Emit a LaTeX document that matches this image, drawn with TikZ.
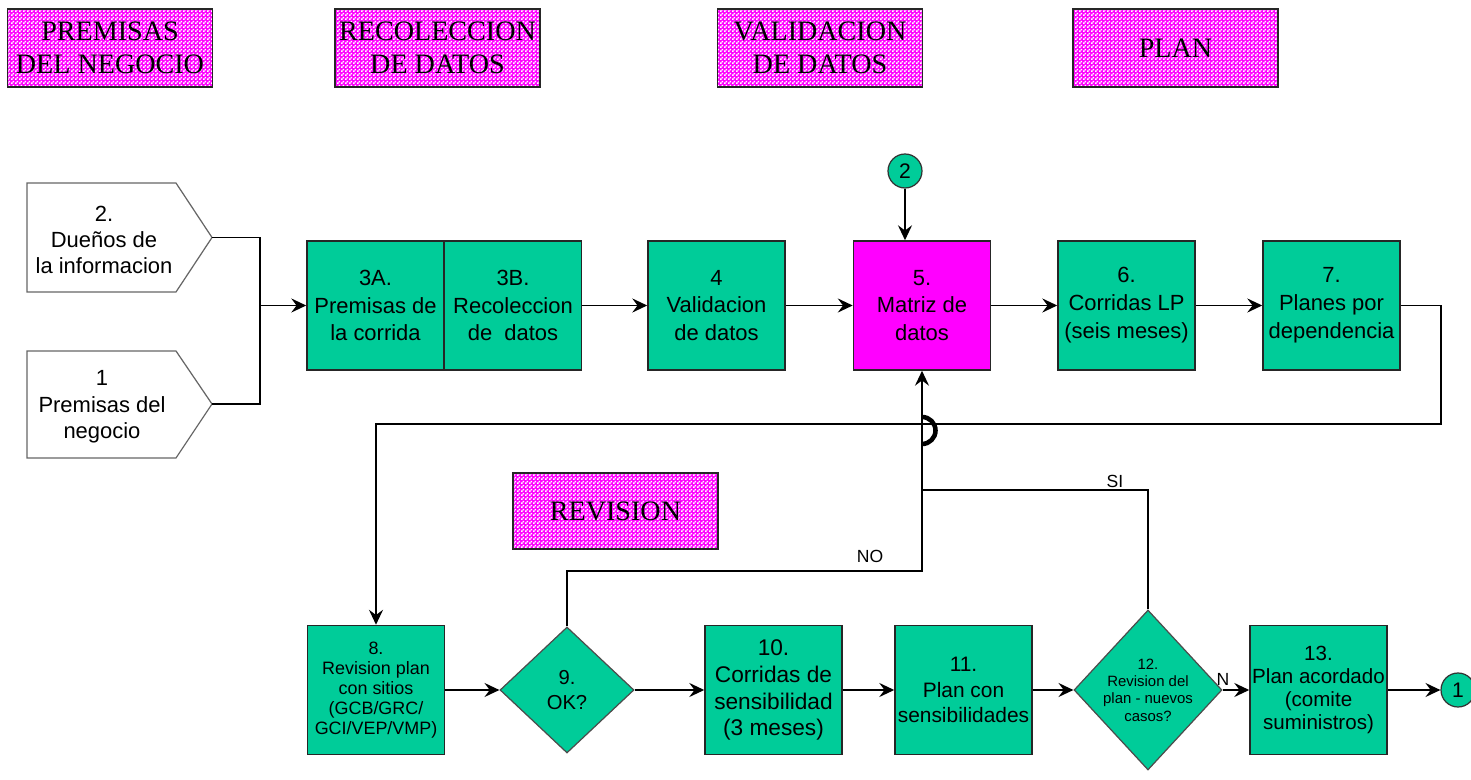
\documentclass[tikz,border=0pt]{standalone}
\usepackage{fontspec}
\setmainfont{Liberation Sans}
\newfontfamily\hdrfont{Liberation Serif}
\usetikzlibrary{shapes.geometric,arrows.meta,patterns}
\definecolor{boxgreen}{RGB}{0,204,153}
\definecolor{mag}{RGB}{255,0,255}
\pgfdeclarepatternformonly{checker}{\pgfpointorigin}{\pgfqpoint{2pt}{2pt}}{\pgfqpoint{2pt}{2pt}}{%
  \pgfpathrectangle{\pgfpointorigin}{\pgfqpoint{1pt}{1pt}}%
  \pgfpathrectangle{\pgfqpoint{1pt}{1pt}}{\pgfqpoint{1pt}{1pt}}%
  \pgfusepath{fill}}
\tikzset{
  hdr/.style={draw=black!85, line width=0.9pt, preaction={fill=mag}, pattern=checker, pattern color=white,
    minimum width=4.1cm, minimum height=1.56cm, inner sep=0pt, align=center,
    font=\hdrfont\fontsize{16}{18.5}\selectfont},
  box/.style={draw=black!85, line width=0.9pt, fill=boxgreen, minimum width=2.74cm, minimum height=2.58cm,
    inner sep=0pt, align=center, font=\fontsize{12.5}{15.9}\selectfont},
  dia/.style={diamond, draw=black!70, line width=0.7pt, fill=boxgreen, inner sep=0pt},
  circ/.style={circle, draw=black!80, line width=0.7pt, fill=boxgreen, minimum size=0.68cm, inner sep=0pt,
    font=\fontsize{12}{14}\selectfont},
  pent/.style={draw=black!60, line width=0.7pt, fill=white},
  ln/.style={draw=black, line width=0.85pt},
  arr/.style={ln, -{Stealth[length=8.5pt,width=8pt,inset=3pt]}},
  lbl/.style={font=\fontsize{10}{12}\selectfont, inner sep=0pt}
}
\begin{document}
\begin{tikzpicture}[x=0.02cm, y=-0.02cm]
\useasboundingbox (0,0) rectangle (1471,780);
% header labels
\node[hdr] (h1) at (110,48) {PREMISAS\\DEL NEGOCIO};
\node[hdr] (h2) at (437.5,48) {RECOLECCION\\DE DATOS};
\node[hdr] (h3) at (820,48) {VALIDACION\\DE DATOS};
\node[hdr] (h4) at (1175.5,48) {PLAN};
\node[hdr, minimum height=1.52cm] (h5) at (615.5,511) {REVISION};
% input pentagons
\draw[pent] (27,183) -- (176,183) -- (212,237.5) -- (176,292) -- (27,292) -- cycle;
\coordinate (p2tip) at (212,237.5);
\node[align=center, font=\fontsize{12.5}{15}\selectfont] (p2) at (104,240) {2.\\Dueños de\\la informacion};
\draw[pent] (27,351) -- (176,351) -- (212,404) -- (176,458) -- (27,458) -- cycle;
\coordinate (p1tip) at (212,404);
\node[align=center, font=\fontsize{12.5}{15}\selectfont] (p1) at (102,407) {1\\Premisas del\\negocio};
% top row
\node[box] (n3a) at (375.5,305.5) {3A.\\Premisas de\\la corrida};
\node[box] (n3b) at (513,305.5) {3B.\\Recoleccion\\de~~datos};
\node[box] (n4) at (716.5,305.5) {4\\Validacion\\de datos};
\node[box, fill=mag] (n5) at (922,305.5) {5.\\Matriz de\\datos};
\node[box] (n6) at (1126.5,305.5) {6.\\Corridas LP\\(seis meses)};
\node[box] (n7) at (1331.5,305.5) {7.\\Planes por\\dependencia};
\node[circ] (c2) at (905,171) {2};
% bottom row
\node[box, font=\fontsize{10.2}{11.4}\selectfont] (n8) at (376,690) {8.\\Revision plan\\con sitios\\(GCB/GRC/\\GCI/VEP/VMP)};
\node[dia, minimum width=2.68cm, minimum height=2.52cm] (d9) at (567,690) {};
\node[align=center, font=\fontsize{11.5}{14}\selectfont] (t9) at (d9) {9.\\OK?};
\node[box, font=\fontsize{12.9}{15.3}\selectfont] (n10) at (773.5,690) {10.\\Corridas de\\sensibilidad\\(3 meses)};
\node[box, font=\fontsize{11.9}{14.5}\selectfont] (n11) at (963.5,690) {11.\\Plan con\\sensibilidades};
\node[dia, minimum width=2.96cm, minimum height=3.2cm] (d12) at (1148,690) {};
\node[align=center, font=\fontsize{8.5}{9.9}\selectfont] (t12) at (d12) {12.\\Revision del\\plan - nuevos\\casos?};
\node[box, font=\fontsize{11.7}{13}\selectfont] (n13) at (1318.5,690) {13.\\Plan acordado\\(comite\\suministros)};
\node[circ] (c1) at (1458,690) {1};
% left connectors
\coordinate (j) at (260,305.5);
\draw[ln] (p2tip) -| (j) |- (p1tip);
\draw[arr] (j) -- (n3a.west);
% top row arrows
\draw[arr] (n3b.east) -- (n4.west);
\draw[arr] (n4.east) -- (n5.west);
\draw[arr] (n5.east) -- (n6.west);
\draw[arr] (n6.east) -- (n7.west);
\draw[arr] (c2.south) -- (c2.south |- n5.north);
% loop back to 8
\coordinate (rt) at (1441,424);
\draw[arr] (n7.east) -| (rt) -| (n8.north);
% bottom row arrows
\draw[arr] (n8.east) -- (d9.west);
\draw[arr] (d9.east) -- (n10.west);
\draw[arr] (n10.east) -- (n11.west);
\draw[arr] (n11.east) -- (d12.west);
\draw[arr] (d12.east) -- (n13.west);
\draw[arr] (n13.east) -- (c1.west);
% NO / SI feedback
\coordinate (noc) at (922,571);
\coordinate (sic) at (922,490);
\draw[arr] (d9.north) |- (noc) -- (n5.south);
\draw[ln] (d12.north) |- (sic);
\draw[line width=2.6pt] (922,417) arc[start angle=90, end angle=-90, radius=0.27cm];
\node[lbl] (lno) at (870,556) {NO};
\node[lbl] (lsi) at (1115,481) {SI};
\node[lbl] (ln) at (1223,679) {N};
\end{tikzpicture}
\end{document}
